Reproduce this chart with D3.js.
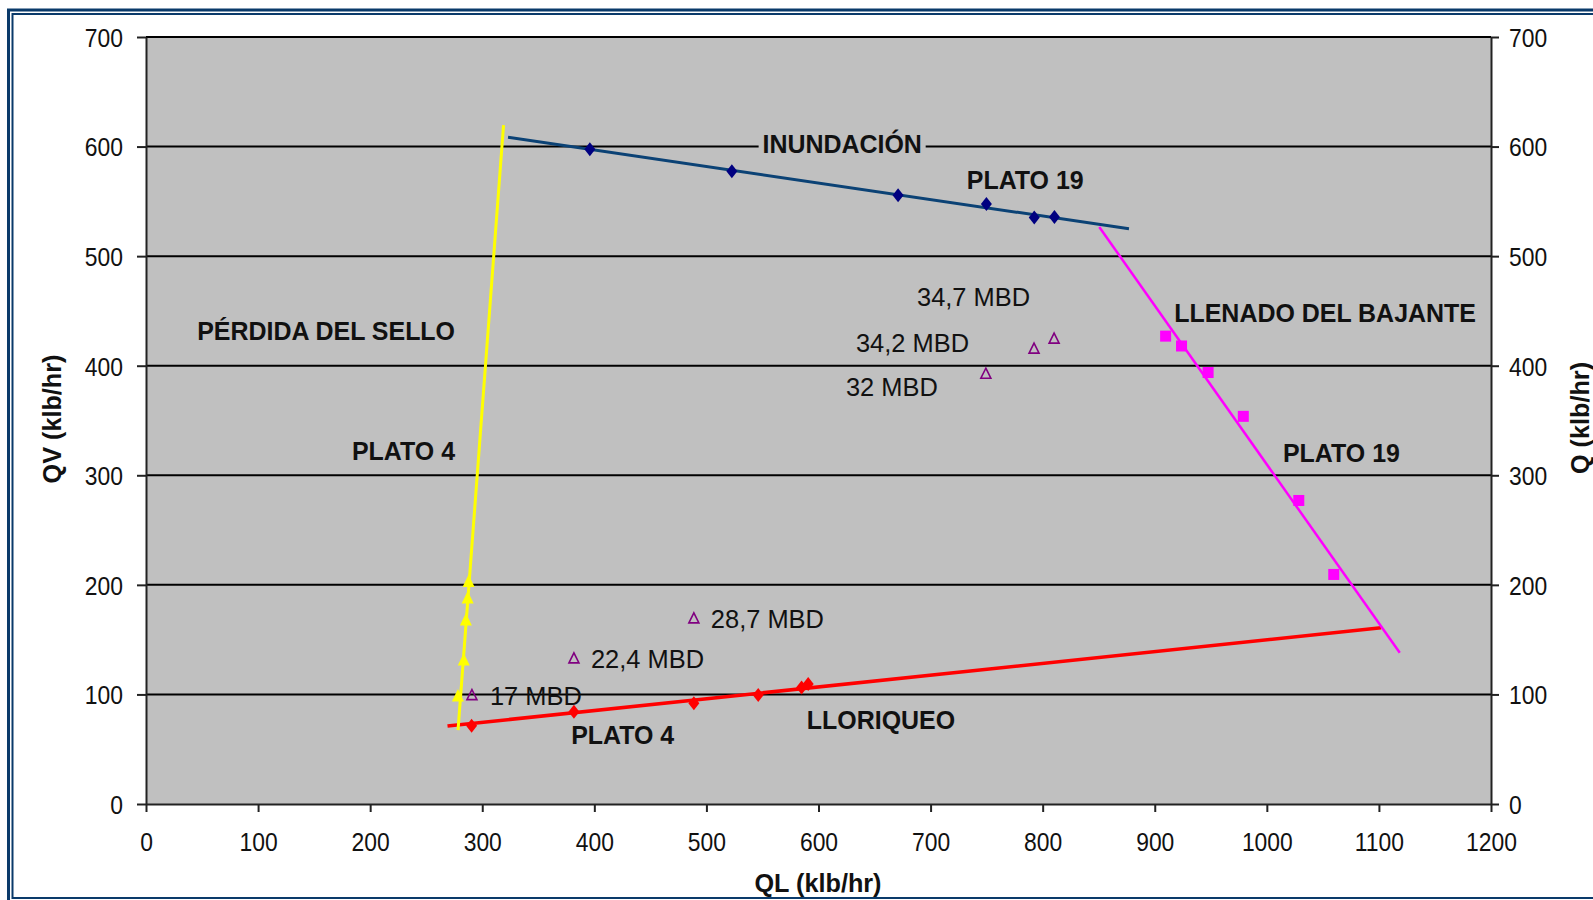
<!DOCTYPE html>
<html>
<head>
<meta charset="utf-8">
<script src="https://cdnjs.cloudflare.com/ajax/libs/d3/7.8.5/d3.min.js"></script>
<style>
	body { margin: 0; background: #fff; }
	svg { display: block; font-family: "Liberation Sans", Arial, sans-serif; }
</style>
</head>
<body>
<div id="chart"></div>
<script>
// trend lines (QL, QV)
var inundacionLine = [[323, 608.5], [877, 525]];
var lloriqueoLine = [[269, 71.2], [1102, 160.9]];
var selloLine = [[278.4, 67.5], [319, 619.5]];
var bajanteLine = [[850.5, 526.6], [1118.6, 138]];

// measured points
var inundacionQL = [396, 522.7, 671, 749.8, 792.5, 810.5];
var inundacionQV = [597.6, 577.5, 555.6, 547.6, 535.3, 535.8];
var lloriqueoQL = [290.5, 381.8, 488.8, 546.2, 584.9, 590.8];
var lloriqueoQV = [71.4, 84.2, 91.9, 99.4, 106.4, 109.5];
var selloQL = [278.3, 283.5, 285.4, 287, 287.8];
var selloQV = [98.5, 131.4, 168, 188, 203];
var bajanteQL = [909.7, 923.9, 947.6, 979, 1028.5, 1059.7];
var bajanteQV = [427, 418, 393.8, 353.8, 277, 209.5];

// operating points
var operQL = [290.8, 381.8, 488.8, 749.3, 792.3, 810.2];
var operQV = [99.4, 132.9, 169.4, 392.7, 415.6, 424.7];
var operLabels = ["17 MBD", "22,4 MBD", "28,7 MBD", "32 MBD", "34,2 MBD", "34,7 MBD"];

// region notes
var notes = ["INUNDACIÓN", "PLATO 19", "PÉRDIDA DEL SELLO", "PLATO 4",
	"LLENADO DEL BAJANTE", "PLATO 19", "PLATO 4", "LLORIQUEO"];
var notesQL = [621.1, 732.3, 275.7, 275.7, 917.4, 1014.4, 379.3, 589.6];
var notesQV = [594.2, 561.7, 423.3, 313.8, 440, 312.3, 54.5, 68.4];

var xTicks = [0, 100, 200, 300, 400, 500, 600, 700, 800, 900, 1000, 1100, 1200];
var yTicks = [0, 100, 200, 300, 400, 500, 600, 700];

var width = 1593,
	height = 900;

var svg = d3.select("#chart")
	.append("svg")
	.attr("width", width)
	.attr("height", height);

var x = d3.scaleLinear().domain([0, 1200]).range([146, 1491]);
var y = d3.scaleLinear().domain([0, 700]).range([804, 37]);

var ink = "#111";
var borderColor = "#0a3a6a";

// plot area
svg.append("rect")
	.attr("x", x(0))
	.attr("y", y(700))
	.attr("width", x(1200) - x(0))
	.attr("height", y(0) - y(700))
	.attr("fill", "#c0c0c0");

svg.append("g")
	.selectAll("line")
	.data(yTicks.slice(1))
	.enter().append("line")
	.attr("x1", x(0))
	.attr("x2", x(1200))
	.attr("y1", function(d) { return y(d); })
	.attr("y2", function(d) { return y(d); })
	.attr("stroke", "#000")
	.attr("stroke-width", 2);

// axes
function styleAxis(g) {
	g.select(".domain").attr("stroke", "#222").attr("stroke-width", 2);
	g.selectAll(".tick line").attr("stroke", "#222").attr("stroke-width", 2);
	g.selectAll("text")
		.attr("fill", ink)
		.style("font-size", "26px");
}

var plain = d3.format("d");

var leftAxis = svg.append("g")
	.attr("transform", "translate(" + x(0) + ",0)")
	.call(d3.axisLeft(y).tickValues(yTicks).tickFormat(plain).tickSize(9).tickSizeOuter(0))
	.call(styleAxis);
leftAxis.selectAll("text")
	.attr("x", null)
	.attr("dy", "0.36em")
	.attr("transform", "translate(-23,0) scale(0.88,1)");

var rightAxis = svg.append("g")
	.attr("transform", "translate(" + x(1200) + ",0)")
	.call(d3.axisRight(y).tickValues(yTicks).tickFormat(plain).tickSize(8).tickSizeOuter(0))
	.call(styleAxis);
rightAxis.selectAll("text")
	.attr("x", null)
	.attr("dy", "0.36em")
	.attr("transform", "translate(18,0) scale(0.88,1)");

var bottomAxis = svg.append("g")
	.attr("transform", "translate(0," + y(0) + ")")
	.call(d3.axisBottom(x).tickValues(xTicks).tickFormat(plain).tickSize(8).tickSizeOuter(0))
	.call(styleAxis);
bottomAxis.selectAll("text")
	.attr("y", null)
	.attr("dy", null)
	.attr("transform", "translate(0,47) scale(0.88,1)");

// axis titles
svg.append("text")
	.attr("transform", "translate(818,892) scale(0.97,1)")
	.attr("text-anchor", "middle")
	.style("font-size", "26px")
	.style("font-weight", "bold")
	.attr("fill", ink)
	.text("QL (klb/hr)");

svg.append("text")
	.attr("transform", "translate(61,419) rotate(-90) scale(0.97,1)")
	.attr("text-anchor", "middle")
	.style("font-size", "26px")
	.style("font-weight", "bold")
	.attr("fill", ink)
	.text("QV (klb/hr)");

svg.append("text")
	.attr("transform", "translate(1589,418) rotate(-90) scale(0.97,1)")
	.attr("text-anchor", "middle")
	.style("font-size", "26px")
	.style("font-weight", "bold")
	.attr("fill", ink)
	.text("Q (klb/hr)");

// trend lines
var line = d3.line()
	.x(function(d) { return x(d[0]); })
	.y(function(d) { return y(d[1]); });

var trends = [
	{ pts: lloriqueoLine, color: "#ff0000", w: 3.5 },
	{ pts: inundacionLine, color: "#0b4275", w: 3 },
	{ pts: bajanteLine, color: "#ff00ff", w: 2.5 },
	{ pts: selloLine, color: "#ffff00", w: 3 }
];

svg.append("g")
	.selectAll("path")
	.data(trends)
	.enter().append("path")
	.attr("d", function(d) { return line(d.pts); })
	.attr("fill", "none")
	.attr("stroke", function(d) { return d.color; })
	.attr("stroke-width", function(d) { return d.w; });

// markers
var diamond = "M0,-7L5.5,0L0,7L-5.5,0Z";
var triangle = "M0,-7L6,5.5L-6,5.5Z";
var openTriangle = "M0,-5.5L5,4.5L-5,4.5Z";

function markers(qls, qvs, shape, fill, stroke) {
	svg.append("g")
		.selectAll("path")
		.data(qls)
		.enter().append("path")
		.attr("d", shape)
		.attr("transform", function(d, i) {
			return "translate(" + x(d) + "," + y(qvs[i]) + ")";
		})
		.attr("fill", fill)
		.attr("stroke", stroke)
		.attr("stroke-width", stroke === "none" ? 0 : 1.6);
}

markers(lloriqueoQL, lloriqueoQV, diamond, "#ff0000", "none");
markers(inundacionQL, inundacionQV, diamond, "#000080", "none");
markers(selloQL, selloQV, triangle, "#ffff00", "none");
markers(operQL, operQV, openTriangle, "none", "#800080");

svg.append("g")
	.selectAll("rect")
	.data(bajanteQL)
	.enter().append("rect")
	.attr("x", function(d) { return x(d) - 5.5; })
	.attr("y", function(d, i) { return y(bajanteQV[i]) - 5.5; })
	.attr("width", 11)
	.attr("height", 11)
	.attr("fill", "#ff00ff");

// data labels of the operating points
var labelLayout = [
	{ dx: 18, dy: 0, anchor: "start" },
	{ dx: 17, dy: 0, anchor: "start" },
	{ dx: 17, dy: 0, anchor: "start" },
	{ dx: -48, dy: 13, anchor: "end" },
	{ dx: -65, dy: -6, anchor: "end" },
	{ dx: -24, dy: -42, anchor: "end" }
];

svg.append("g")
	.selectAll("text")
	.data(operLabels)
	.enter().append("text")
	.attr("transform", function(d, i) {
		var l = labelLayout[i];
		return "translate(" + (x(operQL[i]) + l.dx) + "," + (y(operQV[i]) + l.dy) + ") scale(0.96,1)";
	})
	.attr("dy", "0.36em")
	.attr("text-anchor", function(d, i) { return labelLayout[i].anchor; })
	.style("font-size", "26.5px")
	.attr("fill", ink)
	.text(function(d) { return d; });

// region notes
var noteAnchor = ["middle", "start", "end", "end", "start", "start", "start", "start"];

var noteG = svg.append("g")
	.selectAll("g")
	.data(notes)
	.enter().append("g")
	.attr("transform", function(d, i) {
		return "translate(" + x(notesQL[i]) + "," + y(notesQV[i]) + ") scale(0.96,1)";
	});

noteG.append("text")
	.attr("text-anchor", function(d, i) { return noteAnchor[i]; })
	.style("font-size", "26px")
	.style("font-weight", "bold")
	.attr("fill", ink)
	.text(function(d) { return d; });

// the first note sits on a gridline and hides it
noteG.filter(function(d, i) { return i === 0; })
	.insert("rect", "text")
	.each(function() {
		var b = this.parentNode.querySelector("text").getBBox();
		d3.select(this)
			.attr("x", b.x - 4)
			.attr("y", b.y + 4)
			.attr("width", b.width + 8)
			.attr("height", b.height - 6)
			.attr("fill", "#c0c0c0");
	});

// frame
svg.append("rect")
	.attr("x", 8.5)
	.attr("y", 10)
	.attr("width", 1700)
	.attr("height", 1000)
	.attr("fill", "none")
	.attr("stroke", borderColor)
	.attr("stroke-width", 3);

svg.append("rect")
	.attr("x", 12.5)
	.attr("y", 14)
	.attr("width", 1700)
	.attr("height", 884)
	.attr("fill", "none")
	.attr("stroke", borderColor)
	.attr("stroke-width", 2);
</script>
</body>
</html>
